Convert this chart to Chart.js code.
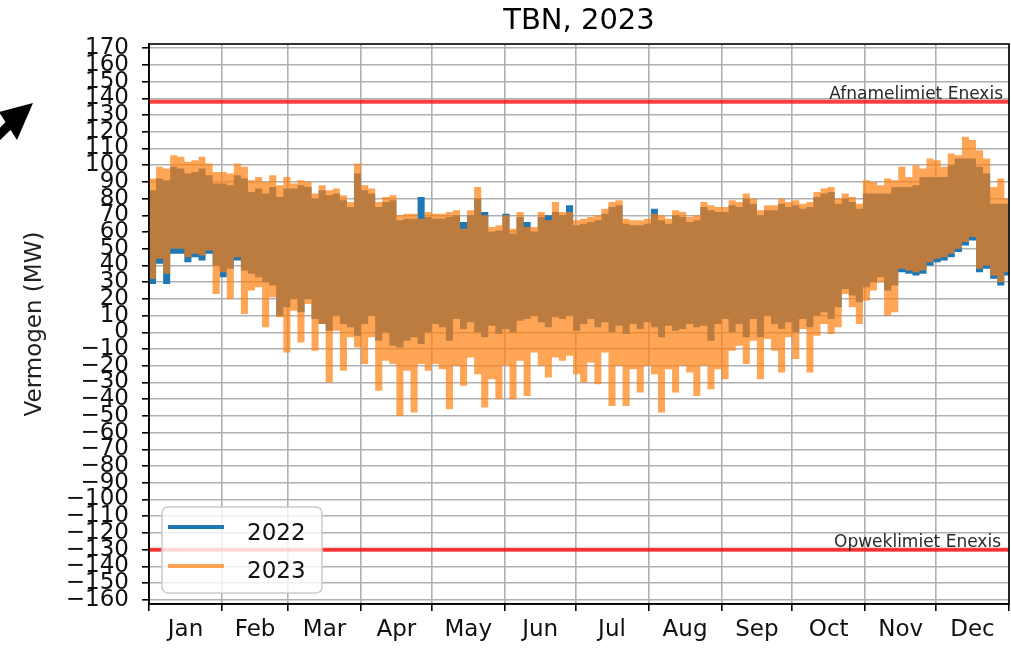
<!DOCTYPE html>
<html>
<head>
<meta charset="utf-8">
<script src="https://cdn.jsdelivr.net/npm/chart.js@4/dist/chart.umd.min.js"></script>
<style>
  html, body { margin: 0; padding: 0; background: #fff; }
  #wrap { width: 1011px; height: 649px; }
</style>
</head>
<body>
<div id="wrap"><canvas id="tbnChart" width="1011" height="649"></canvas></div>
<script>
// month axis (day-of-year boundaries for 2023)
const months = ["Jan", "Feb", "Mar", "Apr", "May", "Jun", "Jul", "Aug", "Sep", "Oct", "Nov", "Dec"];
const monthStarts = [0, 31, 59, 90, 120, 151, 181, 212, 243, 273, 304, 334, 365];
const yTicks = [-160, -150, -140, -130, -120, -110, -100, -90, -80, -70, -60, -50, -40, -30, -20, -10,
  0, 10, 20, 30, 40, 50, 60, 70, 80, 90, 100, 110, 120, 130, 140, 150, 160, 170];

// power envelope per 3-day block (MW)
const binDays = 3;
const max2023 = [
  92, 99, 98, 106, 105, 102, 103, 105, 101, 96,
  96, 95, 101, 99, 91, 93, 90, 94, 88, 93,
  89, 91, 90, 83, 88, 85, 86, 82, 78, 101,
  88, 86, 78, 81, 82, 70, 71, 71, 68, 72,
  71, 71, 72, 73, 62, 73, 87, 70, 63, 64,
  70, 62, 72, 63, 63, 72, 67, 78, 72, 72,
  67, 68, 69, 70, 74, 78, 79, 68, 67, 67,
  68, 71, 70, 68, 73, 72, 69, 70, 78, 76,
  75, 75, 79, 78, 83, 80, 73, 76, 76, 80,
  78, 79, 77, 78, 84, 86, 87, 80, 83, 81,
  77, 91, 90, 88, 92, 91, 99, 93, 100, 98,
  104, 103, 99, 107, 106, 117, 115, 109, 104, 87,
  92, 80
];
const min2023 = [
  32, 44, 35, 50, 50, 45, 47, 46, 49, 23,
  36, 20, 45, 11, 25, 27, 3, 21, 9, -12,
  13, -6, 17, -11, 5, -30, 1, -23, -3, -9,
  -19, -3, -35, -17, -19, -50, -23, -48, -19, -23,
  -19, -22, -46, -20, -32, -15, -25, -45, -28, -40,
  -20, -40, -17, -38, -12, -20, -27, -15, -17, -14,
  -25, -30, -18, -31, -12, -44, -20, -44, -22, -36,
  -20, -25, -48, -22, -36, -20, -24, -38, -20, -34,
  -22, -28, -11, -8, -19, -5, -28, -4, -11, -24,
  -3, -16, 2, -24, -2, 5, -1, 3, 23, 15,
  5, 19, 25, 30, 10, 12, 38, 37, 36, 37,
  42, 44, 45, 47, 50, 54, 57, 38, 40, 34,
  30, 36
];
const max2022 = [
  85, 92, 91, 99, 98, 95, 96, 98, 94, 89,
  89, 88, 94, 92, 84, 86, 83, 87, 81, 86,
  86, 88, 87, 80, 85, 82, 83, 79, 75, 95,
  85, 83, 75, 78, 79, 67, 68, 68, 81, 69,
  68, 68, 69, 70, 66, 70, 80, 72, 60, 61,
  71, 59, 69, 66, 60, 69, 70, 72, 70, 76,
  64, 65, 66, 67, 71, 75, 76, 65, 64, 64,
  65, 74, 67, 65, 70, 69, 66, 67, 75, 73,
  72, 72, 76, 75, 80, 77, 70, 73, 73, 77,
  75, 76, 74, 75, 81, 83, 84, 77, 80, 78,
  74, 83, 83, 83, 83, 87, 87, 87, 88, 93,
  93, 93, 93, 100, 104, 104, 104, 99, 95, 77,
  77, 77
];
const min2022 = [
  29, 41, 29, 47, 47, 42, 45, 43, 47, 40,
  33, 38, 43, 37, 35, 33, 30, 28, 10, 15,
  20, 12, 20, 8, 5, 1, 10, 5, 3, -2,
  5, 10, -5, 0, -8, -9, -5, -3, -7, 0,
  5, 3, -5, 8, 2, 6, 0, -3, 4, -1,
  2, 0, 7, 8, 10, 6, 3, 9, 8, 10,
  1, 5, 8, 3, 6, 0, 4, -1, 5, 2,
  6, 3, -3, 4, 1, 2, 5, 3, 4, -5,
  5, 8, 0, 5, -3, 8, -3, 10, 5, 2,
  6, 0, 8, 3, 10, 12, 8, 15, 26, 22,
  18, 27, 30, 33, 25, 28, 36, 35, 34, 35,
  40, 42, 43, 45, 48, 52, 55, 36, 38, 32,
  28, 34
];

// grid limits of Enexis
const afnameLimit = 138;
const opwekLimit = -130;

const BLUE = "#1f77b4";
const ORANGE = "rgba(255,127,14,0.7)";
const RED = "rgba(255,0,0,0.75)";
const FONT = "'DejaVu Sans', sans-serif";

function steps(vals) {
  const pts = vals.map((v, i) => ({ x: i * binDays, y: v }));
  pts.push({ x: 365, y: vals[vals.length - 1] });
  return pts;
}

function hline(v) {
  return [{ x: 0, y: v }, { x: 365, y: v }];
}

// boundaries get grid + tick, mid-month gets the label
const xTicks = [];
monthStarts.forEach((d, i) => {
  xTicks.push({ value: d });
  if (i < months.length) xTicks.push({ value: (d + monthStarts[i + 1]) / 2 });
});

const band = { pointRadius: 0, stepped: true, borderColor: "transparent", borderWidth: 1 };

const extras = {
  id: "extras",
  afterDraw(chart) {
    const c = chart.ctx;
    const a = chart.chartArea;
    c.save();

    // frame
    c.strokeStyle = "#000";
    c.lineWidth = 1.6;
    c.strokeRect(a.left, a.top, a.right - a.left, a.bottom - a.top);

    // title
    c.fillStyle = "#000";
    c.font = "29px " + FONT;
    c.textAlign = "center";
    c.textBaseline = "alphabetic";
    c.fillText("TBN, 2023", (a.left + a.right) / 2, 29);

    // limit labels
    const y = chart.scales.y;
    c.font = "17px " + FONT;
    c.fillStyle = "#2a2a2a";
    c.textAlign = "right";
    c.fillText("Afnamelimiet Enexis", a.right - 6, y.getPixelForValue(afnameLimit) - 3);
    c.fillText("Opweklimiet Enexis", a.right - 8, y.getPixelForValue(opwekLimit) - 3);

    // legend
    c.beginPath();
    c.roundRect(162, 507, 160, 86, 6);
    c.fillStyle = "rgba(255,255,255,0.8)";
    c.fill();
    c.strokeStyle = "#cccccc";
    c.lineWidth = 1.5;
    c.stroke();
    const items = [["2022", BLUE, 527, 540], ["2023", ORANGE, 566, 578]];
    items.forEach(([txt, col, ly, ty]) => {
      c.beginPath();
      c.moveTo(168, ly);
      c.lineTo(224, ly);
      c.strokeStyle = col;
      c.lineWidth = 4;
      c.stroke();
      c.fillStyle = "#111";
      c.font = "23px " + FONT;
      c.textAlign = "left";
      c.fillText(txt, 247, ty);
    });

    // arrow in the corner
    c.fillStyle = "#000";
    c.beginPath();
    c.moveTo(33, 103);
    c.lineTo(-1, 112);
    c.lineTo(17, 140);
    c.closePath();
    c.fill();
    c.beginPath();
    c.moveTo(9, 125);
    c.lineTo(-12, 146);
    c.strokeStyle = "#000";
    c.lineWidth = 9;
    c.stroke();

    c.restore();
  }
};

const ctx = document.getElementById("tbnChart").getContext("2d");
const chart = new Chart(ctx, {
  type: "line",
  data: {
    datasets: [
      { label: "2023", data: steps(max2023), fill: "+1", backgroundColor: ORANGE, order: 1, ...band },
      { label: "2023 min", data: steps(min2023), fill: false, order: 1, ...band },
      { label: "2022", data: steps(max2022), fill: "+1", backgroundColor: BLUE, order: 2, ...band },
      { label: "2022 min", data: steps(min2022), fill: false, order: 2, ...band },
      { label: "Afnamelimiet Enexis", data: hline(afnameLimit), borderColor: RED, borderWidth: 4, pointRadius: 0, order: 0 },
      { label: "Opweklimiet Enexis", data: hline(opwekLimit), borderColor: RED, borderWidth: 4, pointRadius: 0, order: 0 }
    ]
  },
  options: {
    responsive: false,
    animation: false,
    layout: { padding: { top: 44, right: 2, left: 0, bottom: 0 } },
    plugins: {
      legend: { display: false },
      tooltip: { enabled: false },
      title: { display: false }
    },
    scales: {
      x: {
        type: "linear",
        min: 0,
        max: 365,
        afterBuildTicks: s => { s.ticks = xTicks.map(t => ({ value: t.value })); },
        afterFit: s => { s.height = 45; s.paddingLeft = 0; s.paddingRight = 0; },
        ticks: {
          autoSkip: false,
          maxRotation: 0,
          padding: 5,
          color: "#111",
          font: { family: FONT, size: 23 },
          callback: (v, i) => (i % 2 ? months[(i - 1) / 2] : "")
        },
        grid: {
          color: c => (c.index % 2 === 0 ? "#b0b0b0" : "transparent"),
          tickColor: c => (c.index % 2 === 0 ? "#000" : "transparent"),
          lineWidth: 1.6,
          tickLength: 7,
          tickWidth: 1.6
        },
        border: { color: "#000", width: 1.6 }
      },
      y: {
        min: -162.5,
        max: 172.5,
        afterBuildTicks: s => { s.ticks = yTicks.map(v => ({ value: v })); },
        afterFit: s => { s.width = 149; s.paddingTop = 0; s.paddingBottom = 0; },
        ticks: {
          autoSkip: false,
          padding: 13,
          color: "#111",
          font: { family: FONT, size: 23 },
          callback: v => (v < 0 ? "\u2212" + Math.abs(v) : String(v))
        },
        grid: {
          color: "#b0b0b0",
          lineWidth: 1.6,
          tickColor: "#000",
          tickLength: 7,
          tickWidth: 1.6
        },
        border: { color: "#000", width: 1.6 },
        title: {
          display: true,
          text: "Vermogen (MW)",
          color: "#222",
          font: { family: FONT, size: 23 },
          padding: { top: 21, bottom: 0 }
        }
      }
    }
  },
  plugins: [extras]
});
</script>
</body>
</html>
